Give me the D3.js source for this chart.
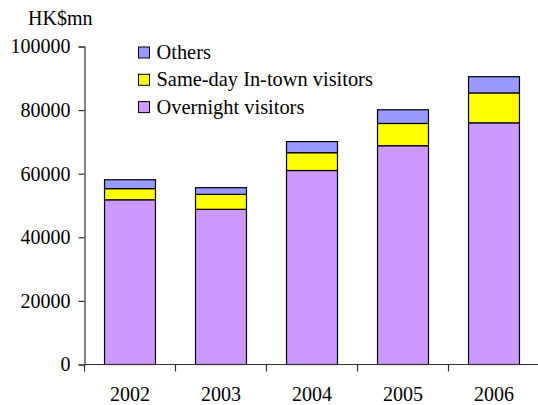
<!DOCTYPE html>
<html>
<head>
<meta charset="utf-8">
<script src="https://cdn.jsdelivr.net/npm/d3@7"></script>
</head>
<body style="margin:0">
<svg id="chart" width="538" height="405" font-family="Liberation Serif"></svg>
<script>
// Visitor spending by year, HK$ million
const years = ["2002", "2003", "2004", "2005", "2006"];
const overnight = [51800, 48800, 61000, 68800, 76000];
const sameDay = [3500, 4700, 5600, 7000, 9400];
const others = [2800, 2100, 3500, 4300, 5100];
const seriesNames = ["Overnight visitors", "Same-day In-town visitors", "Others"];
const seriesColors = ["#CC99FF", "#FFFF00", "#9999FF"];
const yTicks = [0, 20000, 40000, 60000, 80000, 100000];

const svg = d3.select("#chart");
const x0 = 84.5, x1 = 539.5, yBottom = 364.5, yTop = 46.5;

// every label uses the same serif face
function serif(sel, size = 20) {
  return sel.style("font-family", '"Liberation Serif"').attr("font-size", size);
}

const x = d3.scaleBand().domain(years).range([x0, x1]).paddingInner(0.44).paddingOuter(0.22);
const y = d3.scaleLinear().domain([0, 100000]).range([yBottom, yTop]);

const rows = years.map((yr, i) => ({ year: yr, overnight: overnight[i], sameDay: sameDay[i], others: others[i] }));
const stacked = d3.stack().keys(["overnight", "sameDay", "others"])(rows);

// stacked bars
svg.append("g").selectAll("g").data(stacked).join("g")
  .attr("fill", (d, i) => seriesColors[i])
  .selectAll("rect").data(d => d).join("rect")
  .attr("x", d => x(d.data.year))
  .attr("width", x.bandwidth())
  .attr("y", d => y(d[1]))
  .attr("height", d => y(d[0]) - y(d[1]))
  .attr("stroke", "#000")
  .attr("stroke-width", 1.2);

// y axis
const yAxis = svg.append("g").attr("transform", `translate(${x0},0)`)
  .call(d3.axisLeft(y).tickValues(yTicks).tickSize(6).tickPadding(8).tickFormat(d3.format("d")));
yAxis.attr("font-family", null).attr("font-size", null);
yAxis.select(".domain").attr("stroke", "#333").attr("stroke-width", 1.2);
yAxis.selectAll(".tick line").attr("stroke", "#333").attr("stroke-width", 1.2);
serif(yAxis.selectAll("text").attr("fill", "#000"));

// x axis with ticks at category boundaries
const xAxisG = svg.append("g").attr("transform", `translate(0,${yBottom})`);
xAxisG.append("line").attr("x1", x0).attr("x2", x1).attr("stroke", "#333").attr("stroke-width", 1.2);
const boundaries = d3.range(years.length + 1).map(i => x0 + i * (x1 - x0) / years.length);
xAxisG.selectAll("line.tk").data(boundaries).join("line").attr("class", "tk")
  .attr("x1", d => d).attr("x2", d => d).attr("y1", 0).attr("y2", 7)
  .attr("stroke", "#333").attr("stroke-width", 1.2);
serif(xAxisG.selectAll("text").data(years).join("text"))
  .attr("x", d => x(d) + x.bandwidth() / 2)
  .attr("y", 36)
  .attr("text-anchor", "middle")
  .text(d => d);

// unit label
serif(svg.append("text")).attr("x", 28).attr("y", 25).text("HK$mn");

// legend, listed top-down as Others, Same-day, Overnight
const legendOrder = [2, 1, 0];
const lg = svg.append("g");
legendOrder.forEach((si, row) => {
  const cy = 52.5 + row * 27.3;
  lg.append("rect").attr("x", 138.5).attr("y", cy - 5.5).attr("width", 11).attr("height", 11)
    .attr("fill", seriesColors[si]).attr("stroke", "#000").attr("stroke-width", 1);
  serif(lg.append("text"), 20.4).attr("x", 156.5).attr("y", cy + 6.5).text(seriesNames[si]);
});
</script>
</body>
</html>
